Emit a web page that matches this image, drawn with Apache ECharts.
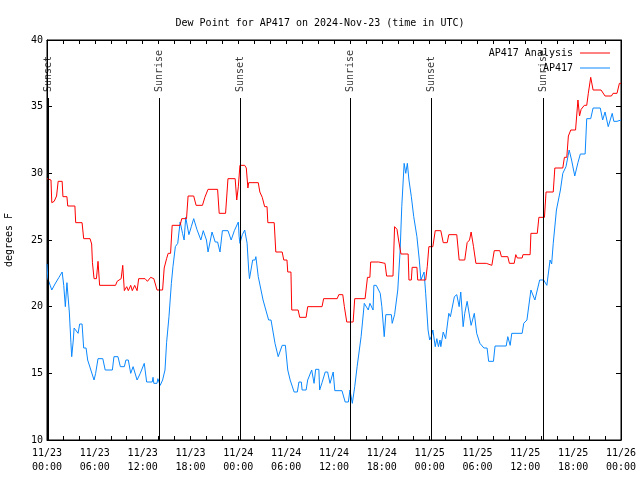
<!DOCTYPE html>
<html>
<head>
<meta charset="utf-8">
<script src="https://cdn.jsdelivr.net/npm/echarts@6/dist/echarts.min.js"></script>
<style>html,body{margin:0;padding:0;background:#fff;}#chart{width:640px;height:480px;}</style>
</head>
<body>
<div id="chart"></div>
<script>
// Hours since 2024-11-23 00:00 UTC
var analysisTime = [0,0.5,0.6,0.9,1.2,1.4,1.9,2.0,2.5,2.6,3.5,3.6,4.4,4.6,5.4,5.6,5.7,5.9,6.2,6.4,6.6,8.6,8.8,9.3,9.5,9.7,10.0,10.2,10.5,10.7,11.0,11.3,11.5,12.3,12.6,13.0,13.4,13.8,14.5,14.7,15.0,15.2,15.5,15.7,16.7,16.9,17.5,17.7,18.4,18.7,19.5,19.8,20.2,21.4,21.6,22.4,22.7,23.6,23.8,24.0,24.2,24.8,25.0,25.2,25.3,26.5,26.7,27.0,27.3,27.6,27.7,28.5,28.7,29.5,29.7,30.1,30.2,30.6,30.7,31.5,31.7,32.5,32.7,34.5,34.7,36.4,36.6,37.1,37.3,37.6,38.4,38.6,39.9,40.2,40.5,40.6,41.6,41.8,42.4,42.6,43.4,43.6,43.9,44.1,44.4,45.3,45.4,45.7,45.8,46.4,46.5,47.5,47.7,47.9,48.4,48.7,49.4,49.7,50.2,50.4,51.4,51.7,52.4,52.7,53.0,53.2,53.5,53.8,55.1,55.3,55.8,56.1,56.8,57.0,57.8,58.0,58.6,58.8,59.0,59.6,59.7,60.6,60.7,61.5,61.7,62.4,62.6,63.5,63.7,64.7,64.9,65.2,65.4,65.6,65.7,66.3,66.6,66.8,67.0,67.4,67.7,67.9,68.2,68.5,69.5,70.0,70.8,71.0,71.5,71.8,72.0];
var analysisDewPoint = [29.6,29.5,27.8,27.9,28.3,29.4,29.4,28.25,28.25,27.55,27.55,26.3,26.3,25.1,25.1,24.7,23.3,22.1,22.1,23.4,21.6,21.6,21.9,22.1,23.1,21.2,21.5,21.2,21.6,21.2,21.6,21.2,22.1,22.1,21.9,22.2,22.1,21.25,21.25,22.9,23.6,24.0,24.0,26.1,26.1,26.6,26.6,28.3,28.3,27.6,27.6,28.2,28.8,28.8,27.0,27.0,29.6,29.6,28.0,29.0,30.6,30.6,30.4,28.9,29.3,29.3,28.6,28.2,27.5,27.5,26.3,26.3,24.1,24.1,23.5,23.5,22.6,22.6,19.75,19.75,19.2,19.2,20.0,20.0,20.6,20.6,20.9,20.9,20.0,18.85,18.85,20.6,20.6,22.2,22.2,23.35,23.35,23.25,23.25,22.3,22.3,26.0,25.8,25.0,23.95,23.95,22.0,22.0,22.95,22.95,22.0,22.0,23.0,24.5,24.5,25.7,25.7,24.8,24.8,25.4,25.4,23.5,23.5,24.8,25.0,25.6,24.5,23.25,23.25,23.1,23.1,24.2,24.2,23.75,23.75,23.25,23.25,23.9,23.65,23.65,23.9,23.9,25.5,25.5,26.7,26.7,28.6,28.6,30.4,30.4,31.2,31.2,32.8,32.8,33.25,33.25,35.5,34.3,34.8,35.1,35.1,36.0,37.2,36.25,36.25,35.8,35.8,36.0,36.0,36.75,36.75];

var obsTime = [0,0.1,0.4,0.6,1.0,1.5,1.9,2.1,2.3,2.5,2.8,3.0,3.1,3.3,3.4,3.6,3.9,4.1,4.4,4.6,4.9,5.1,5.5,5.9,6.1,6.4,7.0,7.3,8.2,8.4,8.9,9.2,9.7,9.9,10.2,10.5,10.8,11.3,11.7,12.2,12.5,13.2,13.3,13.4,13.8,13.9,14.2,14.5,14.8,15.0,15.3,15.6,15.8,16.1,16.4,16.7,17.0,17.2,17.4,17.8,18.1,18.4,18.8,19.3,19.6,20.0,20.2,20.4,20.7,21.1,21.4,21.7,22.0,22.7,23.1,23.5,24.0,24.1,24.2,24.5,24.8,25.1,25.3,25.4,25.8,26.1,26.2,26.5,26.7,27.1,27.3,27.8,28.1,28.6,28.7,29.0,29.1,29.5,29.9,30.2,30.4,30.5,30.7,31.0,31.4,31.6,31.9,32.0,32.5,32.7,32.9,33.2,33.5,33.7,34.1,34.2,34.5,34.9,35.2,35.5,35.9,36.1,37.0,37.4,37.8,38.0,38.3,38.6,38.9,39.4,39.8,40.3,40.5,40.9,41.0,41.3,41.8,42.0,42.1,42.3,42.5,43.2,43.3,43.6,43.8,44.0,44.3,44.5,44.8,45.0,45.2,45.4,45.7,46.0,46.4,46.7,46.9,47.3,47.5,47.8,48.0,48.2,48.4,48.7,48.9,49.1,49.3,49.4,49.7,50.0,50.4,50.6,51.1,51.4,51.7,51.9,52.2,52.4,52.7,52.9,53.2,53.6,53.9,54.3,54.8,55.2,55.4,56.0,56.2,57.6,57.8,58.1,58.3,59.6,59.8,60.2,60.7,60.9,61.2,61.5,61.8,62.3,62.7,63.1,63.3,63.5,63.9,64.4,64.7,65.1,65.5,65.8,66.2,66.6,66.9,67.5,67.7,68.2,68.5,69.4,69.7,70.0,70.4,70.6,70.9,71.1,71.5,72.0];
var obsDewPoint = [23.2,22.1,21.6,21.25,21.7,22.2,22.6,21.6,20.0,21.8,19.6,17.3,16.25,17.5,18.4,18.4,18.0,18.7,18.7,16.9,16.9,16.0,15.25,14.5,15.0,16.1,16.1,15.25,15.25,16.25,16.25,15.5,15.5,16.0,16.0,15.0,15.5,14.5,15.0,15.75,14.35,14.35,14.7,14.25,14.25,14.6,14.1,14.5,15.25,17.3,19.25,21.75,23.0,24.5,24.75,26.35,25.5,25.0,26.7,25.4,26.0,26.6,25.8,25.0,25.7,25.0,24.1,24.1,25.6,24.85,24.85,24.1,25.7,25.7,25.0,25.7,26.35,25.25,24.75,25.4,25.75,24.75,22.75,22.1,23.5,23.5,23.75,22.25,22.25,20.5,20.5,19.0,19.0,17.25,17.25,16.25,16.25,17.1,17.1,15.25,15.25,14.5,14.5,13.6,13.6,14.35,14.35,13.75,13.75,14.5,14.5,15.25,14.25,15.3,15.3,13.75,14.3,15.1,15.1,14.25,15.1,13.7,13.7,12.85,12.85,13.75,12.75,14.0,15.5,17.75,20.25,19.75,20.25,19.75,21.6,21.6,21.0,20.0,20.0,17.75,19.4,19.4,18.75,19.4,19.4,21.25,24.25,27.5,30.75,30.0,30.75,29.5,28.25,26.75,25.25,23.5,22.0,22.6,21.0,18.25,17.5,17.75,18.25,17.0,17.6,17.0,17.5,17.0,18.1,17.6,19.5,19.25,20.75,20.9,20.0,21.1,18.5,19.5,20.4,20.4,18.6,19.5,18.0,17.25,16.9,16.9,15.9,15.9,17.05,17.05,17.75,17.1,18.0,18.0,18.75,19.0,21.25,21.25,20.5,21.25,22.0,22.0,21.6,23.5,23.2,24.75,27.25,28.75,30.0,30.5,31.75,31.0,29.8,30.8,31.45,31.45,34.1,34.1,34.9,34.9,34.0,34.6,33.5,33.5,34.5,33.9,33.9,34.0];

var sunTimes = [0.12, 14.05, 24.25, 38.1, 48.2, 62.25];
var sunLabels = ['Sunset', 'Sunrise', 'Sunset', 'Sunrise', 'Sunset', 'Sunrise'];
var dayLabels = ['11/23', '11/24', '11/25', '11/26'];
var seriesNames = ['AP417 Analysis', 'AP417'];

function zip(t, v) { return t.map(function (x, i) { return [x, v[i]]; }); }
function pad(n) { return (n < 10 ? '0' : '') + n; }

var FONT = 'DejaVu Sans Mono';
var chart = echarts.init(document.getElementById('chart'), null, { renderer: 'canvas' });

var sunTop = 35.65, labelBase = 36.1;

var xCommon = {
  type: 'value', min: 0, max: 72, interval: 2,
  axisLine: { show: true, onZero: false, lineStyle: { color: '#000', width: 1 } },
  axisTick: { show: true, inside: true, length: 4, lineStyle: { color: '#000' } },
  splitLine: { show: false }
};
var yCommon = {
  type: 'value', min: 10, max: 40, interval: 5,
  axisLine: { show: true, onZero: false, lineStyle: { color: '#000', width: 1 } },
  axisTick: { show: true, inside: true, length: 5, lineStyle: { color: '#000' } },
  splitLine: { show: false }
};

function legendFor(name, top) {
  return {
    data: [{ name: name, icon: 'rect' }], right: 30, top: top, align: 'right', padding: 0,
    itemWidth: 30, itemHeight: 1, itemGap: 0,
    textStyle: { fontFamily: FONT, fontSize: 10, color: '#000', padding: [0, 2, 0, 0] }
  };
}

var option = {
  animation: false,
  backgroundColor: '#fff',
  textStyle: { fontFamily: FONT, fontSize: 10, color: '#000' },
  title: {
    text: 'Dew Point for AP417 on 2024-Nov-23 (time in UTC)',
    left: 'center', top: 13,
    textStyle: { fontFamily: FONT, fontSize: 10, fontWeight: 'normal', color: '#000' }
  },
  grid: { left: 47, right: 19, top: 40, bottom: 40, containLabel: false, outerBoundsMode: 'none',
          show: true, borderColor: '#000', borderWidth: 1, backgroundColor: 'transparent' },
  legend: [legendFor(seriesNames[0], 48), legendFor(seriesNames[1], 63)],
  xAxis: [
    Object.assign({}, xCommon, {
      position: 'bottom',
      axisLabel: {
        show: true, showMinLabel: true, showMaxLabel: true, hideOverlap: false,
        fontFamily: FONT, fontSize: 10, color: '#000', lineHeight: 14, margin: 6,
        formatter: function (v) {
          if (v % 6 !== 0) return '';
          return dayLabels[Math.floor(v / 24)] + '\n' + pad(v % 24) + ':00';
        }
      }
    }),
    Object.assign({}, xCommon, { position: 'top', axisLabel: { show: false } })
  ],
  yAxis: [
    Object.assign({}, yCommon, {
      position: 'left',
      name: 'degrees F', nameLocation: 'middle', nameGap: 33, nameRotate: 90,
      nameTextStyle: { fontFamily: FONT, fontSize: 10, color: '#000' },
      axisLabel: { show: true, fontFamily: FONT, fontSize: 10, color: '#000', margin: 4 }
    }),
    Object.assign({}, yCommon, { position: 'right', axisLabel: { show: false } })
  ],
  series: [
    {
      name: 'sun', type: 'scatter', xAxisIndex: 0, yAxisIndex: 0,
      symbolSize: 0, silent: true, z: 1,
      data: sunTimes.map(function (h, i) { return [h, labelBase, sunLabels[i]]; }),
      label: {
        show: true, position: 'inside', rotate: 90, align: 'left', verticalAlign: 'middle',
        fontFamily: FONT, fontSize: 10, color: '#000',
        formatter: function (p) { return p.value[2]; }
      },
      markLine: {
        silent: true, symbol: ['none', 'none'], animation: false,
        label: { show: false },
        lineStyle: { color: '#000', width: 1, type: 'solid' },
        data: sunTimes.map(function (h) { return [{ coord: [h, 10] }, { coord: [h, sunTop] }]; })
      }
    },
    {
      name: seriesNames[0], type: 'line', xAxisIndex: 0, yAxisIndex: 0,
      data: zip(analysisTime, analysisDewPoint),
      symbol: 'none', showSymbol: false, z: 3,
      lineStyle: { color: '#ff0000', width: 1 }, itemStyle: { color: '#ff0000' }
    },
    {
      name: seriesNames[1], type: 'line', xAxisIndex: 0, yAxisIndex: 0,
      data: zip(obsTime, obsDewPoint),
      symbol: 'none', showSymbol: false, z: 2,
      lineStyle: { color: '#0a88ff', width: 1 }, itemStyle: { color: '#0a88ff' }
    }
  ]
};
chart.setOption(option);
</script>
</body>
</html>
